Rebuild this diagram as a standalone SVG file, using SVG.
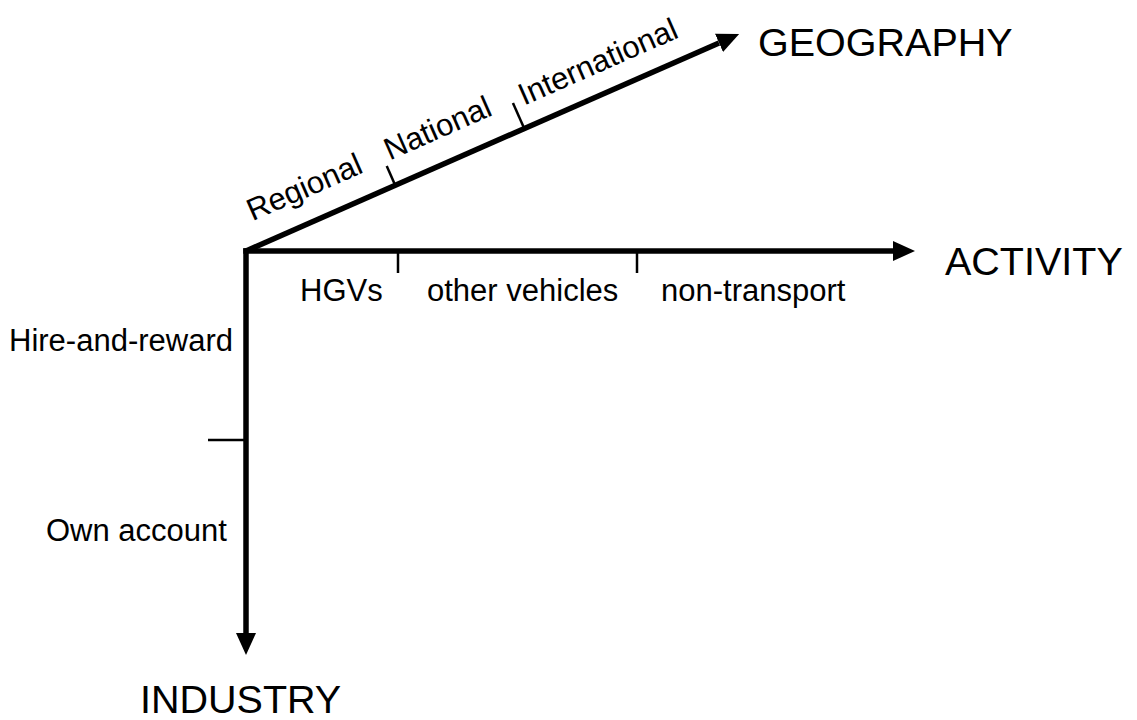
<svg xmlns="http://www.w3.org/2000/svg" width="1137" height="720" viewBox="0 0 1137 720">
<style>
  .axis { stroke: #000; stroke-width: 5.5; fill: none; }
  .tick { stroke: #000; stroke-width: 2.5; fill: none; }
  .lbl { font-family: "Liberation Sans", Arial, sans-serif; font-size: 31px; fill: #000; }
  .big { font-family: "Liberation Sans", Arial, sans-serif; font-size: 39.5px; fill: #000; }
</style>
<defs>
  <marker id="arr" markerUnits="userSpaceOnUse" markerWidth="24" markerHeight="22" refX="0" refY="10" orient="auto" viewBox="0 0 24 22">
    <path d="M0,0 L22,10 L0,20 Z" fill="#000"/>
  </marker>
</defs>
<rect width="1137" height="720" fill="#fff"/>
<g id="connectors">
  <line class="axis" x1="243.25" y1="251" x2="893" y2="251" marker-end="url(#arr)"/>
  <line class="axis" x1="246" y1="248.25" x2="246" y2="633" marker-end="url(#arr)"/>
  <line class="axis" x1="246" y1="251" x2="719" y2="42.9" marker-end="url(#arr)"/>
</g>
<g id="activity-axis">
  <line class="tick" x1="398" y1="251" x2="398" y2="273"/>
  <line class="tick" x1="637" y1="251" x2="637" y2="273"/>
  <text class="lbl" x="300" y="301">HGVs</text>
  <text class="lbl" x="427" y="301">other vehicles</text>
  <text class="lbl" x="661" y="301">non-transport</text>
  <text class="big" x="945" y="275">ACTIVITY</text>
</g>
<g id="industry-axis">
  <line class="tick" x1="208" y1="440" x2="246" y2="440"/>
  <text class="lbl" x="9" y="351">Hire-and-reward</text>
  <text class="lbl" x="46" y="541">Own account</text>
  <text class="big" x="140" y="713">INDUSTRY</text>
</g>
<g id="geography-axis">
  <g transform="translate(246,251) rotate(-23.76)">
    <line class="tick" x1="163" y1="0" x2="163" y2="-21"/>
    <line class="tick" x1="304" y1="0" x2="304" y2="-28"/>
    <text class="lbl" x="18" y="-24.5">Regional</text>
    <text class="lbl" x="168" y="-25">National</text>
    <text class="lbl" x="313" y="-21">International</text>
  </g>
  <text class="big" x="758" y="56">GEOGRAPHY</text>
</g>
</svg>
